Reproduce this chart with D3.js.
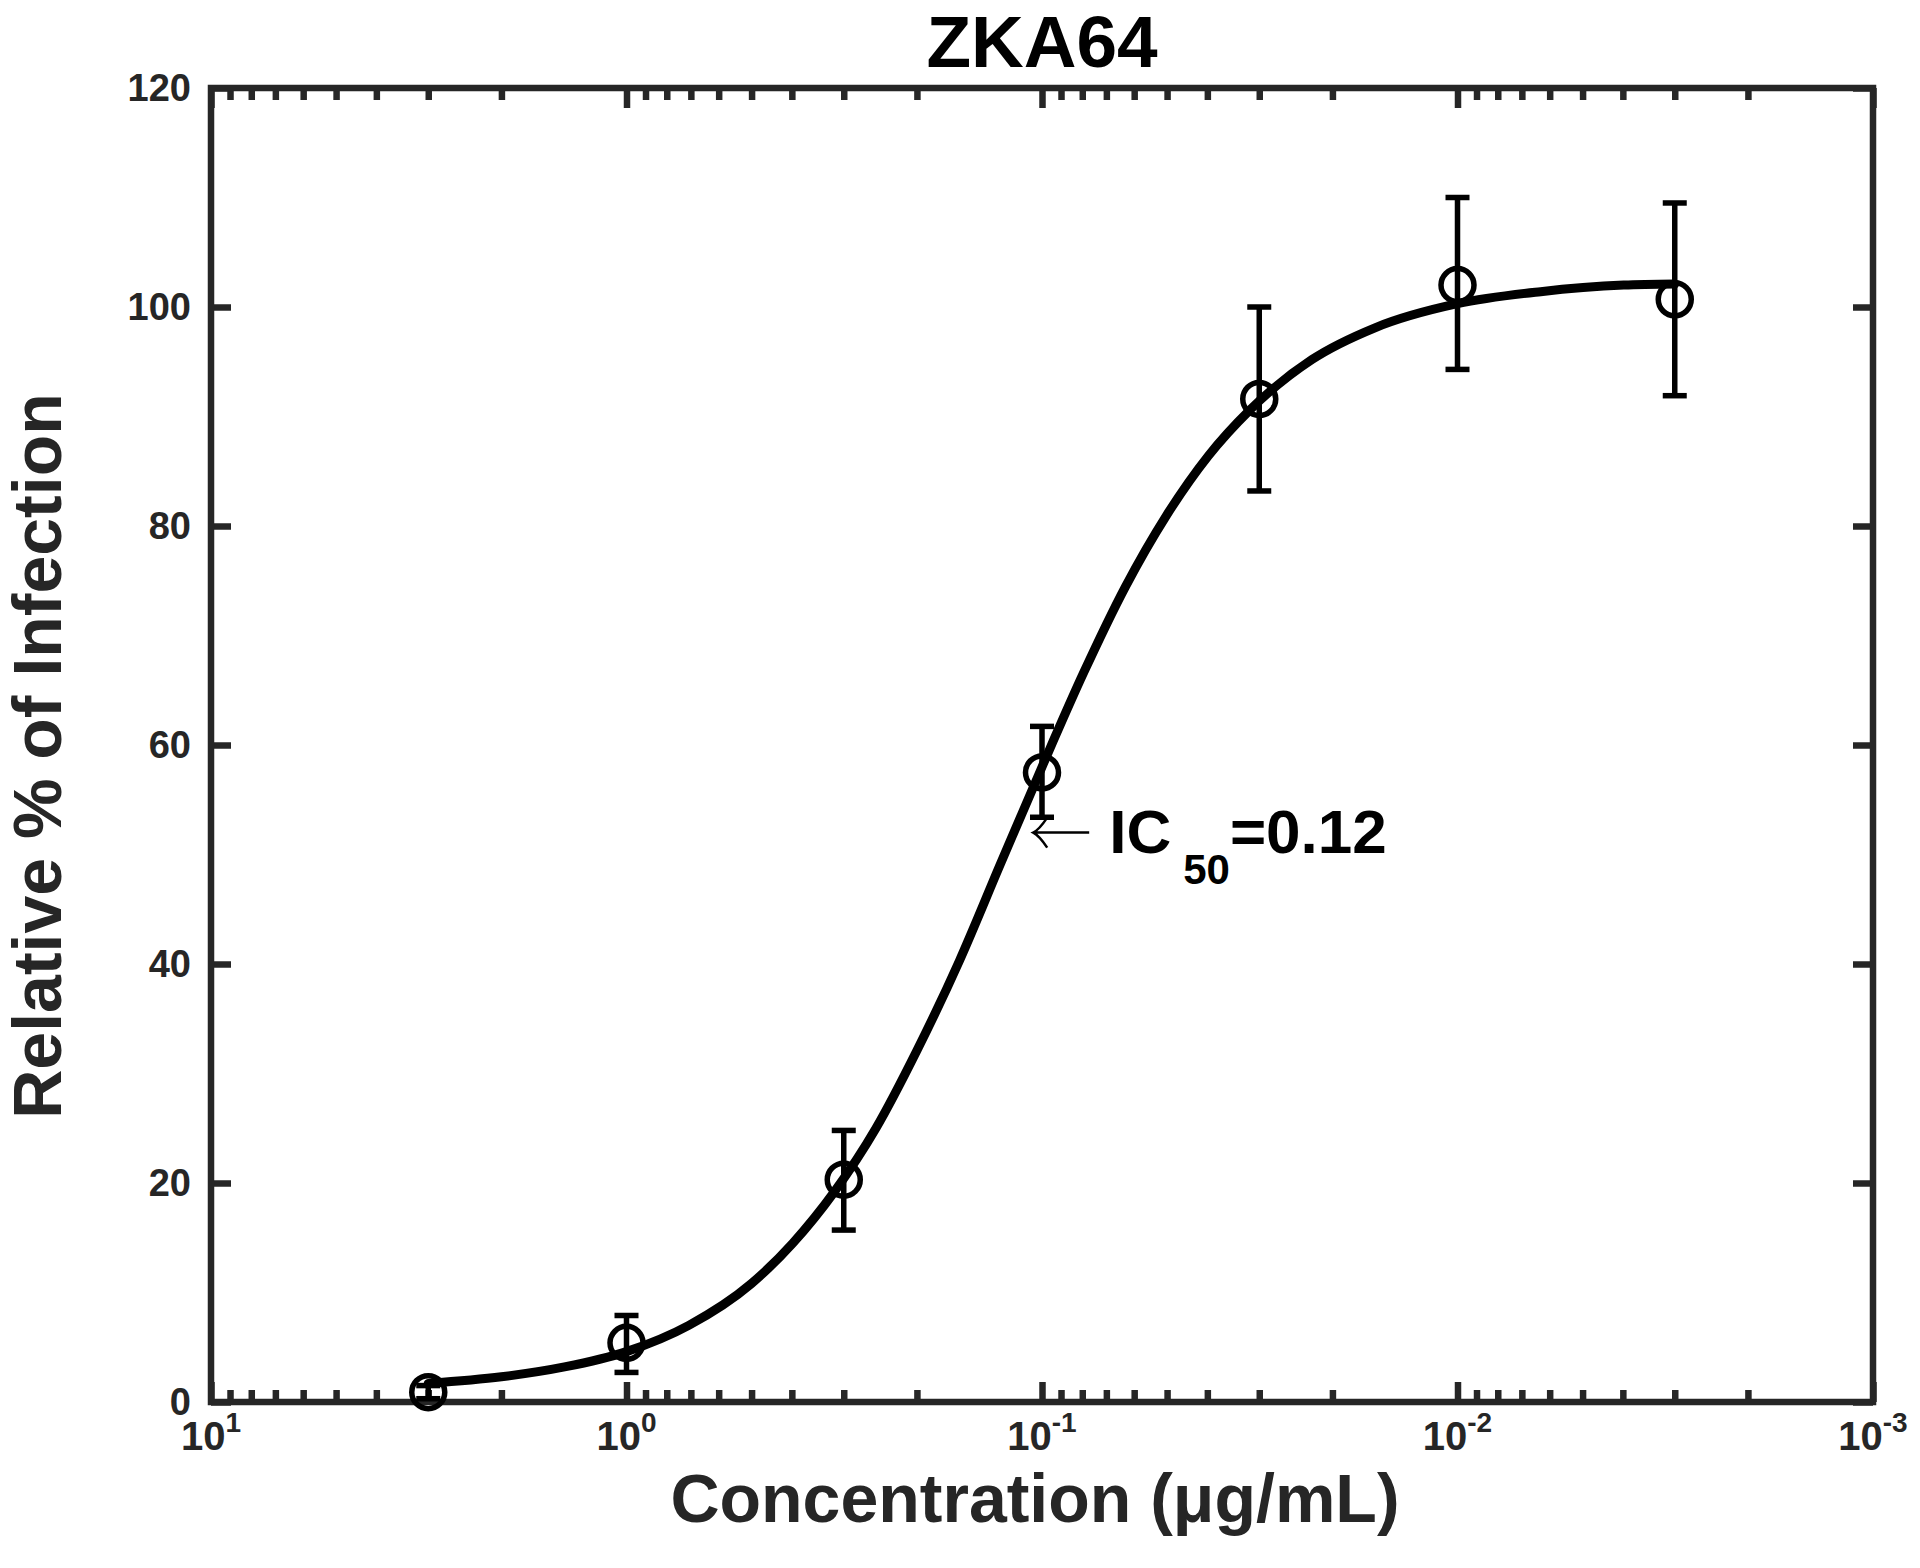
<!DOCTYPE html>
<html>
<head>
<meta charset="utf-8">
<script src="https://cdn.jsdelivr.net/npm/d3@7"></script>
<style>
  body { margin: 0; background: #fff; }
  text { font-family: "Liberation Sans", Arial, sans-serif; font-weight: bold; }
</style>
</head>
<body>
<svg id="chart"></svg>
<script>
// measured points (concentration in ug/mL, relative % infection, error bar ends)
var conc = [3, 1, 0.3, 0.1, 0.03, 0.01, 0.003];
var infection = [0.9, 5.4, 20.3, 57.5, 91.6, 102.0, 100.7];
var errLow = [0.3, 2.7, 15.7, 53.4, 83.2, 94.3, 91.9];
var errHigh = [1.5, 7.9, 24.8, 61.7, 100.0, 110.0, 109.5];

// fitted curve
var fitConc = [3.0, 2.0, 1.41, 1.0, 0.708, 0.501, 0.398, 0.316, 0.251, 0.200,
  0.158, 0.126, 0.1, 0.0794, 0.0631, 0.0501, 0.0398, 0.0316, 0.0224, 0.0158,
  0.01, 0.00631, 0.00398, 0.003];
var fitValue = [1.7, 2.3, 3.2, 4.6, 7.0, 10.8, 14.5, 19.2, 25.0, 32.1,
  40.3, 49.1, 58.0, 66.6, 74.4, 81.0, 86.4, 90.6, 95.2, 98.1,
  100.3, 101.4, 102.0, 102.1];

var xMajor = [10, 1, 0.1, 0.01, 0.001];
var xMajorExp = ["1", "0", "-1", "-2", "-3"];
var yTicks = [0, 20, 40, 60, 80, 100, 120];

var ic50Label = "=0.12";
var ic50At = [0.105, 52];

var W = 1920, H = 1568;
var m = {left: 211, right: 1873, top: 88, bottom: 1402};
var axisColor = "#262626";

var svg = d3.select("#chart").attr("width", W).attr("height", H);

var x = d3.scaleLog().domain([10, 0.001]).range([m.left, m.right]);
var y = d3.scaleLinear().domain([0, 120]).range([m.bottom, m.top]);

// minor ticks 2..9 in every decade
var xMinor = [];
xMajor.slice(1).forEach(function(d){
  for (var k = 2; k <= 9; k++) xMinor.push(d * k);
});

function styleAxis(g){
  g.select(".domain").remove();
  g.selectAll(".tick line").attr("stroke", axisColor).attr("stroke-width", 6.5);
}

// bottom and top ticks (pointing inward)
svg.append("g").attr("transform", "translate(0," + m.bottom + ")")
  .call(d3.axisBottom(x).tickValues(xMinor).tickSize(-12).tickFormat(""))
  .call(styleAxis);
svg.append("g").attr("transform", "translate(0," + m.bottom + ")")
  .call(d3.axisBottom(x).tickValues(xMajor).tickSize(-20).tickFormat(""))
  .call(styleAxis);
svg.append("g").attr("transform", "translate(0," + m.top + ")")
  .call(d3.axisTop(x).tickValues(xMinor).tickSize(-12).tickFormat(""))
  .call(styleAxis);
svg.append("g").attr("transform", "translate(0," + m.top + ")")
  .call(d3.axisTop(x).tickValues(xMajor).tickSize(-20).tickFormat(""))
  .call(styleAxis);

// left and right ticks
var yAxisG = svg.append("g").attr("transform", "translate(" + m.left + ",0)")
  .call(d3.axisLeft(y).tickValues(yTicks).tickSize(-20).tickPadding(20))
  .call(styleAxis);
yAxisG.selectAll(".tick text")
  .attr("fill", axisColor)
  .style("font-size", "38px")
  .style("font-family", "'Liberation Sans', Arial, sans-serif")
  .style("font-weight", "bold");
svg.append("g").attr("transform", "translate(" + m.right + ",0)")
  .call(d3.axisRight(y).tickValues(yTicks).tickSize(-20).tickFormat(""))
  .call(styleAxis);

// x tick labels as 10^n
var xl = svg.append("g").selectAll("text")
  .data(xMajor)
  .enter()
  .append("text")
  .attr("x", function(d){ return x(d); })
  .attr("y", 1450)
  .attr("text-anchor", "middle")
  .attr("fill", axisColor)
  .style("font-size", "40px");
xl.append("tspan").text("10");
xl.append("tspan")
  .attr("dy", -18)
  .style("font-size", "28px")
  .text(function(d, i){ return xMajorExp[i]; });

// box
svg.append("rect")
  .attr("x", m.left).attr("y", m.top)
  .attr("width", m.right - m.left).attr("height", m.bottom - m.top)
  .attr("fill", "none")
  .attr("stroke", axisColor)
  .attr("stroke-width", 6.5);

// fitted curve
var fit = fitConc.map(function(c, i){ return [c, fitValue[i]]; });
var line = d3.line()
  .x(function(d){ return x(d[0]); })
  .y(function(d){ return y(d[1]); })
  .curve(d3.curveMonotoneX);
svg.append("path")
  .datum(fit)
  .attr("d", line)
  .attr("fill", "none")
  .attr("stroke", "#000")
  .attr("stroke-width", 9)
  .attr("stroke-linejoin", "round")
  .attr("stroke-linecap", "round");

// error bars
var pts = conc.map(function(c, i){
  return {c: c, v: infection[i], lo: errLow[i], hi: errHigh[i]};
});
var eb = svg.append("g").attr("stroke", "#000").attr("stroke-width", 5.5);
eb.selectAll(".bar")
  .data(pts)
  .enter()
  .append("line")
  .attr("x1", function(d){ return x(d.c); })
  .attr("x2", function(d){ return x(d.c); })
  .attr("y1", function(d){ return y(d.lo); })
  .attr("y2", function(d){ return y(d.hi); });
["lo", "hi"].forEach(function(k){
  eb.selectAll(".cap-" + k)
    .data(pts)
    .enter()
    .append("line")
    .attr("x1", function(d){ return x(d.c) - 12; })
    .attr("x2", function(d){ return x(d.c) + 12; })
    .attr("y1", function(d){ return y(d[k]); })
    .attr("y2", function(d){ return y(d[k]); });
});

// markers
svg.selectAll(".marker")
  .data(pts)
  .enter()
  .append("circle")
  .attr("cx", function(d){ return x(d.c); })
  .attr("cy", function(d){ return y(d.v); })
  .attr("r", 16.5)
  .attr("fill", "none")
  .attr("stroke", "#000")
  .attr("stroke-width", 5.5);

// IC50 annotation
var ax = x(ic50At[0]), ay = y(ic50At[1]);
svg.append("path")
  .attr("d", "M" + ax + "," + ay + "h56" +
    "M" + (ax + 14) + "," + (ay - 15) + "Q" + (ax + 6) + "," + (ay - 3) + " " + ax + "," + ay +
    "Q" + (ax + 6) + "," + (ay + 3) + " " + (ax + 14) + "," + (ay + 15))
  .attr("fill", "none")
  .attr("stroke", "#000")
  .attr("stroke-width", 2.5);
var ic = svg.append("text")
  .attr("x", ax + 76)
  .attr("y", ay + 20)
  .attr("fill", "#000")
  .style("font-size", "62px");
ic.append("tspan").text("IC");
ic.append("tspan").attr("dx", 12).attr("dy", 31).style("font-size", "42px").text("50");
ic.append("tspan").attr("dy", -31).text(ic50Label);

// titles
svg.append("text")
  .attr("x", (m.left + m.right) / 2)
  .attr("y", 67)
  .attr("text-anchor", "middle")
  .attr("fill", "#000")
  .style("font-size", "73px")
  .text("ZKA64");

svg.append("text")
  .attr("x", 1035)
  .attr("y", 1522)
  .attr("text-anchor", "middle")
  .attr("fill", axisColor)
  .style("font-size", "68px")
  .text("Concentration (μg/mL)");

svg.append("text")
  .attr("transform", "translate(61,756) rotate(-90)")
  .attr("text-anchor", "middle")
  .attr("fill", axisColor)
  .style("font-size", "68px")
  .text("Relative % of Infection");
</script>
</body>
</html>
